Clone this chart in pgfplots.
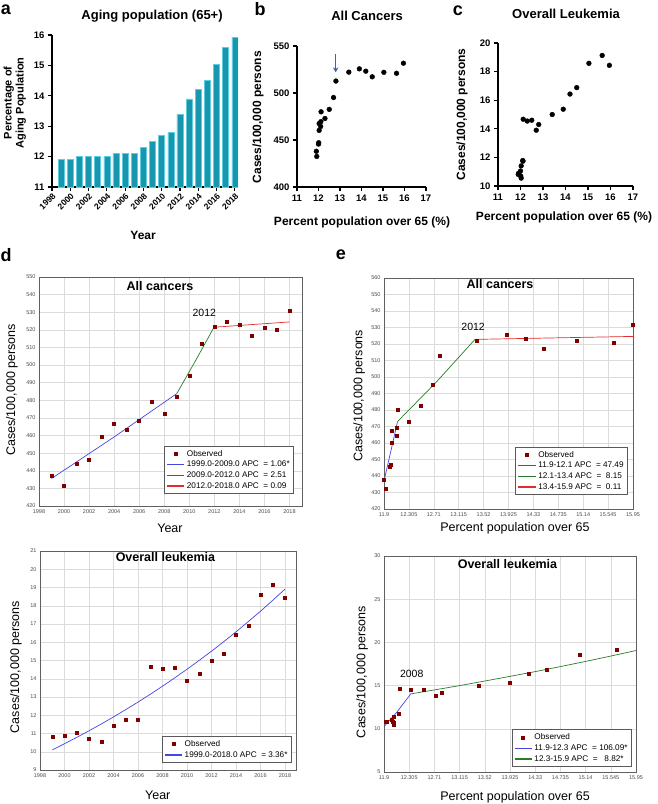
\documentclass[border=0pt]{standalone}
\usepackage{fontspec}
\setmainfont{Liberation Sans}
\usepackage{pgfplots}
\pgfplotsset{compat=1.18}
\usetikzlibrary{arrows.meta}
\definecolor{barfill}{RGB}{24,150,176}
\definecolor{baredge}{RGB}{95,205,225}
\definecolor{obs}{RGB}{128,0,0}
\definecolor{fitblue}{RGB}{70,70,225}
\definecolor{fitgreen}{RGB}{40,125,40}
\definecolor{fitred}{RGB}{225,45,45}
\definecolor{arrowblue}{RGB}{60,100,180}
\newcommand{\fs}[1]{\fontsize{#1}{#1}\selectfont}

\pgfplotsset{
  prism/.style={% GraphPad look, panels a-c
    scale only axis, axis x line*=bottom, axis y line*=left,
    axis line style={line width=1.1pt},
    tick style={line width=1.1pt, black}, tick align=outside, major tick length=4pt,
    tick label style={font=\fs{9.5}\bfseries},
    label style={font=\fs{12}\bfseries},
    title style={font=\fs{13}\bfseries},
    /pgf/number format/assume math mode=true,
    /pgf/number format/1000 sep={},
  },
  jp/.style={% Joinpoint look, panels d-e
    scale only axis, axis line style={gray!75!black, line width=0.8pt},
    grid=major, grid style={gray!28, line width=0.5pt},
    major tick length=0pt,
    tick label style={font=\fs{5.5}, text=gray!60!black},
    label style={font=\fs{12.5}},
    title style={font=\fs{12.5}\bfseries, anchor=center},
    /pgf/number format/assume math mode=true,
    /pgf/number format/1000 sep={},
    legend style={draw=gray!70!black, line width=0.8pt, font=\fs{8.2},
      anchor=south east, inner sep=2pt, row sep=-0.5pt},
    legend cell align=left,
  },
  obsmark/.style={only marks, mark=square*, mark size=1.5pt, color=obs},
  fitline/.style={no marks, line width=0.7pt, color=#1,
    legend image code/.code={\draw[color=#1, line width=1.5pt] (0cm,0cm) -- (0.6cm,0cm);}},
}

\begin{document}
\begin{tikzpicture}
\path[use as bounding box] (0,0) rectangle (657pt,-804pt);

% panel letters
\node[font=\fs{18}\bfseries] at (6pt,-10pt) {a};
\node[font=\fs{18}\bfseries] at (260pt,-9pt) {b};
\node[font=\fs{18}\bfseries] at (458pt,-11pt) {c};
\node[font=\fs{18}\bfseries] at (6pt,-255pt) {d};
\node[font=\fs{18}\bfseries] at (341pt,-255pt) {e};

% ---------- a ----------
\begin{axis}[prism, at={(52pt,-187pt)}, anchor=south west,
  width=186pt, height=152pt,
  ybar, bar width=6pt,
  xmin=1998, xmax=2018.35, ymin=11, ymax=16,
  xtick={1998,2000,...,2018}, ytick={11,...,16},
  xticklabel style={rotate=45, anchor=north east, inner sep=1pt, font=\fs{8.5}\bfseries},
  title={Aging population (65+)},
  title style={at={(axis description cs:0.538,1.086)}, anchor=center},
  xlabel={Year},
  xlabel style={at={(axis description cs:0.49,-0.316)}, anchor=center},
  ylabel={Percentage of\\Aging Population},
  ylabel style={at={(axis description cs:-0.2,0.553)}, anchor=center,
    align=center, font=\fontsize{11}{12}\selectfont\bfseries},
]
\addplot[fill=barfill, draw=baredge, line width=0.5pt] coordinates {
(1999,11.9) (2000,11.9) (2001,12.0) (2002,12.0) (2003,12.0) (2004,12.0)
(2005,12.1) (2006,12.1) (2007,12.1) (2008,12.3) (2009,12.5) (2010,12.7)
(2011,12.8) (2012,13.4) (2013,13.9) (2014,14.2) (2015,14.5) (2016,15.03)
(2017,15.6) (2018,15.93)};
\end{axis}

% ---------- b ----------
\begin{axis}[prism, at={(297pt,-187pt)}, anchor=south west,
  width=129pt, height=141pt,
  xmin=11, xmax=17, ymin=400, ymax=550,
  xtick={11,...,17}, ytick={400,450,500,550},
  title={All Cancers},
  title style={at={(axis description cs:0.543,1.17)}, anchor=center},
  xlabel={Percent population over 65 (\%)},
  xlabel style={at={(axis description cs:0.504,-0.248)}, anchor=center},
  ylabel={Cases/100,000 persons},
  ylabel style={at={(axis description cs:-0.302,0.496)}, anchor=center},
]
\addplot[only marks, mark=*, mark size=2.4pt, black] coordinates {
(11.90,438.0) (11.92,432.5) (12.00,445.7) (12.01,447.1) (12.03,460.2)
(12.03,467.5) (12.10,464.4) (12.11,469.5) (12.12,480.0) (12.30,472.9)
(12.50,482.6) (12.70,495.2) (12.81,512.7) (13.41,522.2) (13.90,525.7)
(14.20,523.2) (14.50,517.2) (15.04,522.0) (15.63,521.0) (15.95,531.7)};
\draw[-{Stealth[length=5pt,width=5.5pt]}, arrowblue, line width=1.1pt]
  (axis cs:12.8,541) -- (axis cs:12.8,522);
\end{axis}

% ---------- c ----------
\begin{axis}[prism, at={(498pt,-186pt)}, anchor=south west,
  width=135pt, height=143pt,
  xmin=11, xmax=17, ymin=10, ymax=20,
  xtick={11,...,17}, ytick={10,12,...,20},
  title={Overall Leukemia},
  title style={at={(axis description cs:0.504,1.164)}, anchor=center},
  xlabel={Percent population over 65 (\%)},
  xlabel style={at={(axis description cs:0.489,-0.217)}, anchor=center},
  ylabel={Cases/100,000 persons},
  ylabel style={at={(axis description cs:-0.267,0.5)}, anchor=center},
]
\addplot[only marks, mark=*, mark size=2.4pt, black] coordinates {
(11.90,10.81) (11.92,10.90) (12.00,11.05) (12.01,10.70) (12.03,10.55)
(12.03,11.41) (12.10,11.78) (12.11,11.74) (12.12,14.67) (12.30,14.54)
(12.50,14.60) (12.70,13.90) (12.81,14.30) (13.41,15.00) (13.90,15.37)
(14.20,16.43) (14.50,16.88) (15.04,18.58) (15.63,19.13) (15.95,18.44)};
\end{axis}

% ---------- d, all cancers ----------
\begin{axis}[jp, at={(39pt,-506pt)}, anchor=south west,
  width=263pt, height=229pt,
  xmin=1998, xmax=2019, ymin=420, ymax=550,
  xtick={1998,2000,...,2018}, ytick={420,430,...,550},
  title={All cancers},
  title style={at={(axis description cs:0.46,0.935)}},
  xlabel={Year},
  xlabel style={at={(axis description cs:0.498,-0.096)}, anchor=center},
  ylabel={Cases/100,000 persons},
  ylabel style={at={(axis description cs:-0.103,0.507)}, anchor=center},
  legend style={at={(0.97,0.052)}},
]
\addplot[obsmark] coordinates {
(1999,437.3) (2000,431.6) (2001,444.2) (2002,446.1) (2003,459.6) (2004,466.8)
(2005,463.4) (2006,468.7) (2007,479.4) (2008,472.2) (2009,481.9) (2010,494.2)
(2011,512.1) (2012,521.8) (2013,524.9) (2014,522.8) (2015,516.5) (2016,521.3)
(2017,520.3) (2018,531.0)};
\addlegendentry{Observed}
\addplot[fitline=fitblue] coordinates {(1999,435.6) (2004,459.2) (2009,483.8)};
\addlegendentry{1999.0-2009.0 APC\ \ = 1.06*}
\addplot[fitline=fitgreen] coordinates {(2009,483.8) (2010.5,502.5) (2012,521.8)};
\addlegendentry{2009.0-2012.0 APC\ \ = 2.51}
\addplot[fitline=fitred] coordinates {(2012,521.5) (2018,524.5)};
\addlegendentry{2012.0-2018.0 APC\ \ = 0.09}
\node[font=\fs{10.5}] at (axis cs:2011.2,529.6) {2012};
\end{axis}

% ---------- d, leukemia ----------
\begin{axis}[jp, at={(40pt,-770pt)}, anchor=south west,
  width=256pt, height=219pt,
  xmin=1998, xmax=2018.9, ymin=9, ymax=21,
  xtick={1998,2000,...,2018}, ytick={9,...,21},
  title={Overall leukemia},
  title style={at={(axis description cs:0.49,0.945)}},
  xlabel={Year},
  xlabel style={at={(axis description cs:0.46,-0.114)}, anchor=center},
  ylabel={Cases/100,000 persons},
  ylabel style={at={(axis description cs:-0.094,0.47)}, anchor=center},
  legend style={at={(0.984,0.032)}},
]
\addplot[obsmark] coordinates {
(1999,10.81) (2000,10.90) (2001,11.05) (2002,10.70) (2003,10.55) (2004,11.41)
(2005,11.78) (2006,11.74) (2007,14.67) (2008,14.54) (2009,14.60) (2010,13.90)
(2011,14.30) (2012,15.00) (2013,15.37) (2014,16.43) (2015,16.88) (2016,18.58)
(2017,19.13) (2018,18.44)};
\addlegendentry{Observed}
\addplot[fitline=fitblue] coordinates {
(1999,10.10) (2000,10.44) (2001,10.79) (2002,11.15) (2003,11.52) (2004,11.91)
(2005,12.31) (2006,12.72) (2007,13.15) (2008,13.59) (2009,14.05) (2010,14.52)
(2011,15.01) (2012,15.51) (2013,16.03) (2014,16.57) (2015,17.13) (2016,17.70)
(2017,18.30) (2018,18.91)};
\addlegendentry{1999.0-2018.0 APC\ \ = 3.36*}
\end{axis}

% ---------- e, all cancers ----------
\begin{axis}[jp, at={(384pt,-509pt)}, anchor=south west,
  width=249pt, height=231pt,
  xmin=11.9, xmax=15.95, ymin=420, ymax=560,
  xtick={11.9,12.305,12.71,13.115,13.52,13.925,14.33,14.735,15.14,15.545,15.95},
  xticklabels={11.9,12.305,12.71,13.115,13.52,13.925,14.33,14.735,15.14,15.545,15.95},
  ytick={420,430,...,560},
  title={All cancers},
  title style={at={(axis description cs:0.466,0.95)}},
  xlabel={Percent population over 65},
  xlabel style={at={(axis description cs:0.526,-0.082)}, anchor=center},
  ylabel={Cases/100,000 persons},
  ylabel style={at={(axis description cs:-0.1,0.49)}, anchor=center},
  legend style={at={(0.98,0.06)}},
]
\addplot[obsmark] coordinates {
(11.90,438.0) (11.92,432.5) (12.00,445.7) (12.01,447.1) (12.03,460.2)
(12.03,467.5) (12.10,464.4) (12.11,469.5) (12.12,480.0) (12.30,472.9)
(12.50,482.6) (12.70,495.2) (12.81,512.7) (13.41,522.2) (13.90,525.7)
(14.20,523.2) (14.50,517.2) (15.04,522.0) (15.63,521.0) (15.95,531.7)};
\addlegendentry{Observed}
\addplot[fitline=fitblue] coordinates {(11.9,437.0) (12.01,454.8) (12.12,473.0)};
\addlegendentry{11.9-12.1 APC\ \ = 47.49}
\addplot[fitline=fitgreen] coordinates {(12.12,473.0) (12.75,496.9) (13.38,522.8)};
\addlegendentry{12.1-13.4 APC\ \ =\ \ 8.15}
\addplot[fitline=fitred] coordinates {(13.38,522.8) (15.95,524.6)};
\addlegendentry{13.4-15.9 APC\ \ =\ \ 0.11}
\node[font=\fs{10.5}] at (axis cs:13.35,530.3) {2012};
\end{axis}

% ---------- e, leukemia ----------
\begin{axis}[jp, at={(384pt,-772pt)}, anchor=south west,
  width=252pt, height=216pt,
  xmin=11.9, xmax=15.95, ymin=5, ymax=30,
  xtick={11.9,12.305,12.71,13.115,13.52,13.925,14.33,14.735,15.14,15.545,15.95},
  xticklabels={11.9,12.305,12.71,13.115,13.52,13.925,14.33,14.735,15.14,15.545,15.95},
  ytick={5,10,...,30},
  title={Overall leukemia},
  title style={at={(axis description cs:0.49,0.935)}},
  xlabel={Percent population over 65},
  xlabel style={at={(axis description cs:0.52,-0.116)}, anchor=center},
  ylabel={Cases/100,000 persons},
  ylabel style={at={(axis description cs:-0.087,0.463)}, anchor=center},
  legend style={at={(0.984,0.023)}},
]
\addplot[obsmark] coordinates {
(11.93,10.77) (11.95,10.81) (12.02,11.04) (12.04,10.85) (12.05,10.46)
(12.05,10.70) (12.06,11.35) (12.14,11.73) (12.15,14.60) (12.33,14.50)
(12.53,14.54) (12.73,13.88) (12.83,14.23) (13.42,15.00) (13.92,15.35)
(14.22,16.38) (14.52,16.88) (15.04,18.58) (15.64,19.15) (15.96,18.42)};
\addlegendentry{Observed}
\addplot[fitline=fitblue] coordinates {(11.9,10.27) (12.1,11.87) (12.33,14.04)};
\addlegendentry{11.9-12.3 APC\ \ = 106.09*}
\addplot[fitline=fitgreen] coordinates {
(12.33,14.04) (12.71,14.50) (13.115,15.00) (13.52,15.53) (13.925,16.07)
(14.33,16.62) (14.735,17.20) (15.14,17.80) (15.545,18.42) (15.95,19.06)};
\addlegendentry{12.3-15.9 APC\ \ =\ \ \ 8.82*}
\node[font=\fs{10.5}] at (axis cs:12.345,16.3) {2008};
\end{axis}
\end{tikzpicture}
\end{document}
